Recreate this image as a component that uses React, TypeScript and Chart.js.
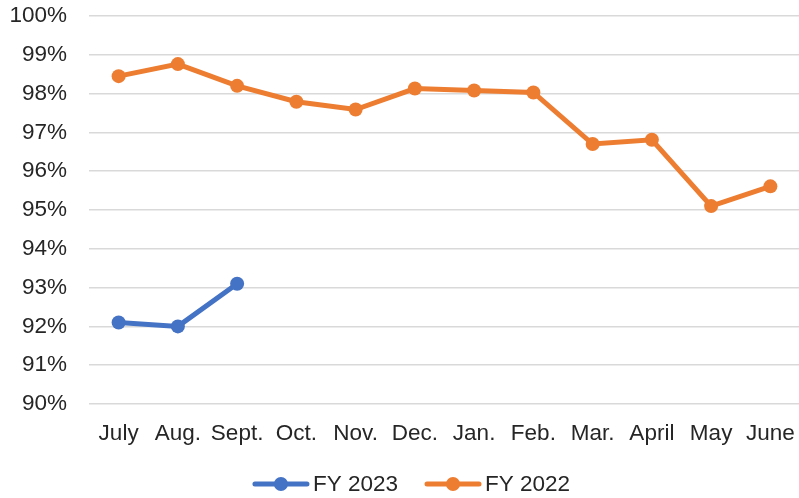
import React, { useEffect, useRef } from "react";
import { Chart, registerables } from "chart.js";

Chart.register(...registerables);

const categories = ["July", "Aug.", "Sept.", "Oct.", "Nov.", "Dec.", "Jan.", "Feb.", "Mar.", "April", "May", "June"];
const fy2023 = [92.1, 92.0, 93.1, null, null, null, null, null, null, null, null, null];
const fy2022 = [98.45, 98.76, 98.2, 97.79, 97.59, 98.13, 98.08, 98.03, 96.7, 96.81, 95.1, 95.61];
const yTicks = { min: 90, max: 100, step: 1 };

const FONT = '"Liberation Sans", Arial, sans-serif';
const FS = 22.5;
const TEXT = "#262626";
const VIEW_W = 799;
const VIEW_H = 498;
const OVERFLOW = 8; // Chart.js keeps a point-size margin on the right; push it past the window edge

const legendPlugin = {
  id: "lineLegend",
  afterDraw(chart: any) {
    const ctx = chart.ctx;
    ctx.save();
    ctx.font = `${FS}px ${FONT}`;
    const markerW = 56;
    const gapText = 4;
    const gapItem = 27;
    const items = chart.data.datasets.map((ds: any) => ({
      label: ds.label,
      color: ds.borderColor,
      w: ctx.measureText(ds.label).width,
    }));
    const total =
      items.reduce((s: number, it: any) => s + markerW + gapText + it.w, 0) + gapItem * (items.length - 1);
    let x = VIEW_W / 2 + 12 - total / 2;
    const y = chart.height - 14;
    items.forEach((it: any) => {
      ctx.strokeStyle = it.color;
      ctx.lineWidth = 5;
      ctx.lineCap = "round";
      ctx.beginPath();
      ctx.moveTo(x + 2, y);
      ctx.lineTo(x + markerW - 2, y);
      ctx.stroke();
      ctx.fillStyle = it.color;
      ctx.beginPath();
      ctx.arc(x + markerW / 2, y, 7, 0, Math.PI * 2);
      ctx.fill();
      ctx.fillStyle = TEXT;
      ctx.textBaseline = "middle";
      ctx.textAlign = "left";
      ctx.fillText(it.label, x + markerW + gapText, y + 1);
      x += markerW + gapText + it.w + gapItem;
    });
    ctx.restore();
  },
};

export default function App() {
  const ref = useRef<HTMLCanvasElement | null>(null);

  useEffect(() => {
    if (!ref.current) return;
    const chart = new Chart(ref.current, {
      type: "line",
      data: {
        labels: categories,
        datasets: [
          {
            label: "FY 2023",
            data: fy2023,
            borderColor: "#4472C4",
            backgroundColor: "#4472C4",
            borderWidth: 5,
            pointRadius: 7,
            pointBorderWidth: 0,
            pointBackgroundColor: "#4472C4",
            spanGaps: false,
            tension: 0,
          },
          {
            label: "FY 2022",
            data: fy2022,
            borderColor: "#ED7D31",
            backgroundColor: "#ED7D31",
            borderWidth: 5,
            pointRadius: 7,
            pointBorderWidth: 0,
            pointBackgroundColor: "#ED7D31",
            tension: 0,
          },
        ],
      },
      options: {
        animation: false,
        responsive: false,
        layout: { padding: { top: 16, left: 0, right: 0, bottom: 0 } },
        plugins: {
          legend: { display: false },
          tooltip: { enabled: false },
        },
        scales: {
          x: {
            offset: true,
            grid: { display: false, drawTicks: false },
            border: { display: false },
            ticks: {
              padding: 16,
              color: TEXT,
              font: { family: FONT, size: FS },
              maxRotation: 0,
              autoSkip: false,
            },
            afterFit: (scale: any) => {
              scale.height = 94;
              scale.paddingLeft = 0;
              scale.paddingRight = 0;
            },
          },
          y: {
            min: yTicks.min,
            max: yTicks.max,
            grid: { color: "#d9d9d9", lineWidth: 1.5, drawTicks: false },
            border: { display: false },
            ticks: {
              stepSize: yTicks.step,
              padding: 22,
              color: TEXT,
              font: { family: FONT, size: FS },
              callback: (v: any) => `${v}%`,
            },
            afterFit: (scale: any) => {
              scale.width = 89;
              scale.paddingTop = 0;
              scale.paddingBottom = 0;
            },
          },
        },
      },
      plugins: [legendPlugin],
    });
    return () => chart.destroy();
  }, []);

  return (
    <div
      style={{
        position: "fixed",
        left: 0,
        top: 0,
        width: VIEW_W,
        height: VIEW_H,
        overflow: "hidden",
        background: "#fff",
      }}
    >
      <canvas ref={ref} width={VIEW_W + OVERFLOW} height={VIEW_H} style={{ display: "block" }} />
    </div>
  );
}
